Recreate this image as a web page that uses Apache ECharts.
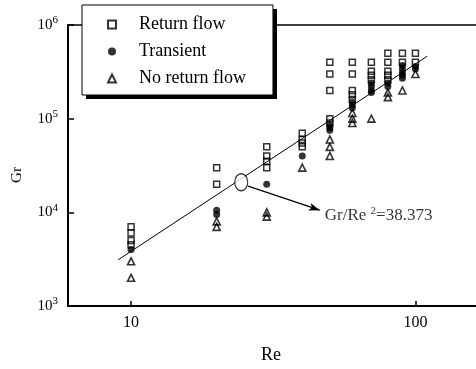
<!DOCTYPE html>
<html><head><meta charset="utf-8">
<script src="https://cdn.jsdelivr.net/npm/echarts@6/dist/echarts.min.js"></script>
<style>html,body{margin:0;padding:0;background:#fff}#c{width:476px;height:369px}</style>
</head><body><div id="c"></div>
<script>
// Return flow (open squares)
const returnRe = [10,10,10,10, 20,20, 30,30,30,30, 40,40,40,40, 50,50,50,50,50, 60,60,60,60,60, 70,70,70,70, 80,80,80,80,80, 90,90, 100,100];
const returnGr = [7000,6000,5000,4500, 30000,20000, 50000,40000,35000,30000, 70000,60000,55000,50000, 400000,300000,200000,100000,90000, 400000,300000,200000,180000,160000, 400000,320000,290000,260000, 500000,400000,320000,290000,260000, 500000,400000, 500000,400000];
// Transient (filled circles)
const transRe = [10, 20,20, 30, 40, 50,50,50, 60,60,60, 70,70,70,70, 80,80, 90,90,90,90,90, 100,100];
const transGr = [4000, 10500,9500, 20000, 40000, 85000,80000,75000, 150000,140000,130000, 240000,220000,200000,190000, 240000,220000, 370000,340000,310000,290000,270000, 360000,340000];
// No return flow (open triangles)
const noRe = [10,10, 20,20, 30,30, 40, 50,50,50, 60,60,60, 70, 80,80, 90, 100];
const noGr = [3000,2000, 8000,7000, 10000,9000, 30000, 60000,50000,40000, 115000,100000,90000, 100000, 190000,170000, 200000, 300000];
// Fit line Gr/Re^2 = 38.373 (end points)
const fitRe = [9, 110];
const fitGr = [3108, 464300];
// Annotation anchors (data coords)
const ellipseAt = [24.4, 21000];
const arrowFrom = [25.8, 19000];
const arrowTo = [46.1, 10550];
const noteAt = [48, 9330];
const xTickLabels = [10, 100];

const pairs = (a, b) => a.map((v, i) => [v, b[i]]);
const serif = 'Liberation Serif';

const chart = echarts.init(document.getElementById('c'), null, {renderer: 'canvas'});
chart.setOption({
  animation: false,
  backgroundColor: '#fff',
  grid: {left: 68, top: 25, width: 433, height: 281, outerBoundsMode: 'none', containLabel: false,
         show: true, borderColor: '#000', borderWidth: 1.5},
  graphic: [{type: 'rect', z: 50, shape: {x: 86, y: 9, width: 191, height: 90}, style: {fill: '#000'}, silent: true}],
  legend: {
    z: 60,
    orient: 'vertical', left: 82, top: 5, padding: [6, 27, 3, 25], itemGap: 0,
    itemWidth: 8, itemHeight: 8,
    backgroundColor: '#fff', borderColor: '#000', borderWidth: 1,
    textStyle: {fontFamily: serif, fontSize: 18, color: '#000', lineHeight: 27, padding: [0, 0, 0, 18]},
    data: ['Return flow', 'Transient', 'No return flow']
  },
  xAxis: {
    type: 'log', logBase: 10, min: 6, max: 200,
    axisLine: {lineStyle: {color: '#000', width: 2}},
    axisTick: {inside: true, length: 5, lineStyle: {color: '#000', width: 1.5}},
    axisLabel: {showMinLabel: false, showMaxLabel: false, color: '#000', fontFamily: serif, fontSize: 16, margin: 9,
      formatter: v => xTickLabels.indexOf(Math.round(v)) >= 0 && Math.abs(v - Math.round(v)) < 1e-6 ? String(Math.round(v)) : ''},
    splitLine: {show: false},
    name: 'Re', nameLocation: 'middle', nameGap: 40,
    nameTextStyle: {fontFamily: serif, fontSize: 18, color: '#000', padding: [0, 27, 0, 0]}
  },
  yAxis: {
    type: 'log', logBase: 10, min: 1000, max: 1000000,
    axisLine: {lineStyle: {color: '#000', width: 2}},
    axisTick: {inside: true, length: 6, lineStyle: {color: '#000', width: 1.5}},
    axisLabel: {color: '#000', margin: 10,
      formatter: v => '{b|10}{s|' + Math.round(Math.log10(v)) + '}',
      rich: {b: {fontFamily: serif, fontSize: 15, lineHeight: 20, color: '#000'},
             s: {fontFamily: serif, fontSize: 11, lineHeight: 10, verticalAlign: 'top', color: '#000'}}},
    splitLine: {show: false},
    name: 'Gr', nameLocation: 'middle', nameGap: 43,
    nameTextStyle: {fontFamily: serif, fontSize: 15, color: '#000', padding: [0, 19, 0, 0]}
  },
  series: [
    {type: 'line', name: 'fit', data: pairs(fitRe, fitGr), symbol: 'none', silent: true,
     lineStyle: {color: '#000', width: 1}, z: 1},
    {type: 'scatter', name: 'ellipse', data: [ellipseAt], symbol: 'circle', symbolSize: [13, 17], silent: true, z: 2,
     itemStyle: {color: '#fff', borderColor: '#000', borderWidth: 1.3},
     markLine: {silent: true, symbol: ['none', 'arrow'], symbolSize: [6, 11], label: {show: false},
       lineStyle: {color: '#000', width: 1.3, type: 'solid'},
       data: [[{coord: arrowFrom}, {coord: arrowTo}]]}},
    {type: 'scatter', name: 'Return flow', data: pairs(returnRe, returnGr), symbol: 'rect', symbolSize: 6, z: 3,
     itemStyle: {color: 'rgba(0,0,0,0)', borderColor: '#000', borderWidth: 1.5}},
    {type: 'scatter', name: 'Transient', data: pairs(transRe, transGr), symbol: 'circle', symbolSize: 7, z: 4,
     itemStyle: {color: '#000'}},
    {type: 'scatter', name: 'No return flow', data: pairs(noRe, noGr), symbol: 'triangle', symbolSize: 7, z: 5,
     itemStyle: {color: 'rgba(0,0,0,0)', borderColor: '#000', borderWidth: 1.6}},
    {type: 'scatter', name: 'note', data: [noteAt], symbolSize: 0, silent: true, z: 6,
     label: {show: true, position: 'right', distance: 0, color: '#000',
       formatter: '{b|Gr/Re }{s|2}{b|=38.373}',
       rich: {b: {fontFamily: serif, fontSize: 17, lineHeight: 20, color: '#000'},
              s: {fontFamily: serif, fontSize: 11, lineHeight: 11, verticalAlign: 'top', color: '#000'}}}}
  ]
});
</script></body></html>
